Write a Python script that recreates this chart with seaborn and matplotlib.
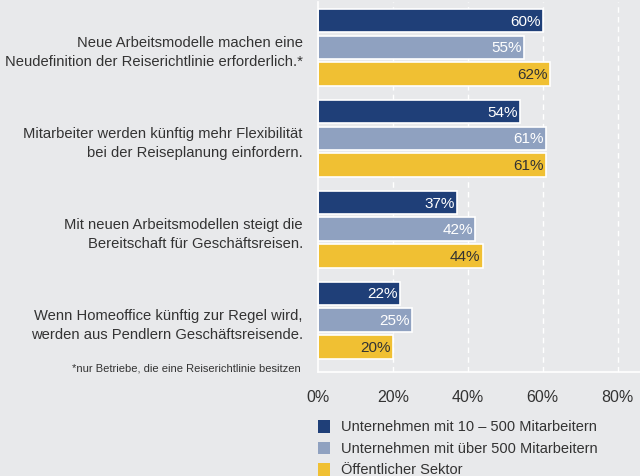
import pandas as pd
import matplotlib.pyplot as plt
import seaborn as sns

# Daten
fragen = [
    "Neue Arbeitsmodelle machen eine\nNeudefinition der Reiserichtlinie erforderlich.*",
    "Mitarbeiter werden künftig mehr Flexibilität\nbei der Reiseplanung einfordern.",
    "Mit neuen Arbeitsmodellen steigt die\nBereitschaft für Geschäftsreisen.",
    "Wenn Homeoffice künftig zur Regel wird,\nwerden aus Pendlern Geschäftsreisende.",
]
gruppen = [
    "Unternehmen mit 10 – 500 Mitarbeitern",
    "Unternehmen mit über 500 Mitarbeitern",
    "Öffentlicher Sektor",
]
klein = [60, 54, 37, 22]
gross = [55, 61, 42, 25]
oeffentlich = [62, 61, 44, 20]
farben = ["#1f3f78", "#8fa1c0", "#f0c033"]
x_ticks = [0, 20, 40, 60, 80]

df = pd.DataFrame({
    "frage": fragen * 3,
    "gruppe": [g for g in gruppen for _ in fragen],
    "wert": klein + gross + oeffentlich,
})

bg = "#e8e9eb"
txt = "#333333"
sns.set_theme(style="white")
plt.rcParams["font.family"] = ["Liberation Sans", "DejaVu Sans"]

fig = plt.figure(figsize=(6.4, 4.77), dpi=100, facecolor=bg)
ax = fig.add_axes([0.497, 0.218, 0.503, 0.776])
ax.set_facecolor(bg)

sns.barplot(data=df, y="frage", x="wert", hue="gruppe", order=fragen,
            hue_order=gruppen, palette=farben, saturation=1, width=0.88,
            gap=0.12, edgecolor="white", linewidth=1.2, orient="h", ax=ax,
            legend=False)

ax.set_xlim(0, 86)
ax.set_ylim(3.57, -0.5)
ax.set_xticks(x_ticks)
ax.set_xticklabels([f"{t}%" for t in x_ticks], fontsize=11.5, color=txt)
ax.tick_params(axis="x", length=0, pad=12)
ax.tick_params(axis="y", length=0, pad=11)
for lab in ax.get_yticklabels():
    lab.set_fontsize(10.6)
    lab.set_color(txt)
    lab.set_linespacing(1.5)
ax.set_xlabel("")
ax.set_ylabel("")
for t in x_ticks[1:]:
    ax.axvline(t, color="white", linestyle=(0, (4, 3)), linewidth=1, zorder=0)
for s in ["top", "right"]:
    ax.spines[s].set_visible(False)
ax.spines["left"].set_color("white")
ax.spines["bottom"].set_color("white")
ax.spines["left"].set_linewidth(1.2)
ax.spines["bottom"].set_linewidth(1.2)

# Werte in den Balken
for i, cont in enumerate(ax.containers):
    col = txt if i == 2 else "white"
    for rect, v in zip(cont.patches, cont.datavalues):
        ax.text(rect.get_x() + rect.get_width() - 0.6,
                rect.get_y() + rect.get_height() / 2, f"{v:.0f}%",
                ha="right", va="center", fontsize=11, color=col)

fig.text(0.47, 0.228, "*nur Betriebe, die eine Reiserichtlinie besitzen",
         ha="right", va="center", fontsize=8, color=txt)

# Legende
for i, g in enumerate(gruppen):
    y = 0.104 - i * 0.045
    fig.patches.append(plt.Rectangle((0.497, y - 0.013), 0.018, 0.026,
                                     transform=fig.transFigure,
                                     facecolor=farben[i], edgecolor="none"))
    fig.text(0.533, y, g, ha="left", va="center", fontsize=10.5, color=txt)

fig.savefig("out.png", dpi=100, facecolor=bg)
